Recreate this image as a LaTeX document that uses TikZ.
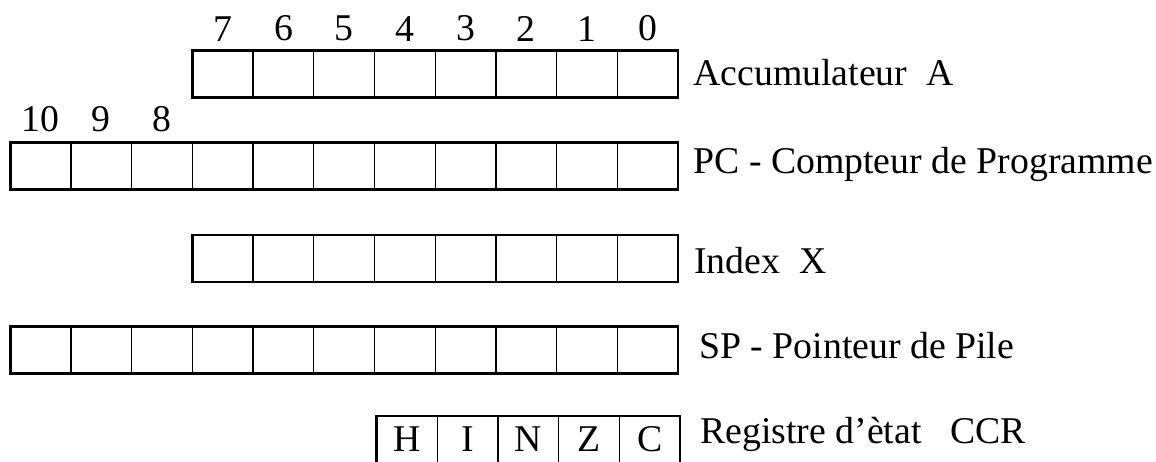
\documentclass[tikz,border=0pt]{standalone}
\usepackage{fontspec}
\setmainfont{Liberation Serif}
\usetikzlibrary{positioning}

\begin{document}
\begin{tikzpicture}[
    x=0.02cm, y=-0.02cm,
    font=\fontsize{21.5}{24}\selectfont,
    cell/.style={
        draw,
        line width=0.7pt,
        minimum width=1.214cm,
        minimum height=0.94cm,
        inner sep=0pt,
        outer sep=0pt
    },
    frame/.style={
        line width=1.6pt
    },
    bitnum/.style={
        inner sep=0pt
    },
    regname/.style={
        anchor=base west,
        inner sep=0pt
    }
]

% Page
\useasboundingbox (0,0) rectangle (1156,461);

% Accumulateur A
\foreach \i in {0,...,7}
    \node[cell] (acc\i) at ({678-(\i+0.5)*60.7},74) {};
\draw[frame] (acc7.north west) rectangle (acc0.south east);
\foreach \i in {0,...,7}
    \node[bitnum, above=0.18cm of acc\i] (accbit\i) {\i};
\node[regname] (accname) at (693,85) {Accumulateur~~A};

% Compteur de programme
\foreach \i in {0,...,10}
    \node[cell] (pc\i) at ({678-(\i+0.5)*60.7},166) {};
\draw[frame] (pc10.north west) rectangle (pc0.south east);
\foreach \i in {8,9,10}
    \node[bitnum, above=0.2cm of pc\i] (pcbit\i) {\i};
\node[regname] (pcname) at (693,173) {PC - Compteur de Programme};

% Index X
\foreach \i in {0,...,7}
    \node[cell] (ix\i) at ({678-(\i+0.5)*60.7},258.5) {};
\draw[frame] (ix7.north west) rectangle (ix0.south east);
\node[regname] (ixname) at (694,273) {Index~~X};

% Pointeur de pile
\foreach \i in {0,...,10}
    \node[cell] (sp\i) at ({678-(\i+0.5)*60.7},350) {};
\draw[frame] (sp10.north west) rectangle (sp0.south east);
\node[regname] (spname) at (699,358) {SP - Pointeur de Pile};

% Registre d'etat
\foreach \i/\f in {4/H,3/I,2/N,1/Z,0/C}
    \node[cell] (ccr\i) at ({680-(\i+0.5)*60.7},439.5) {\f};
\draw[frame] (ccr4.north west) rectangle (ccr0.south east);
\node[regname] (ccrname) at (700,443) {Registre d'ètat~~~CCR};

\end{tikzpicture}
\end{document}
